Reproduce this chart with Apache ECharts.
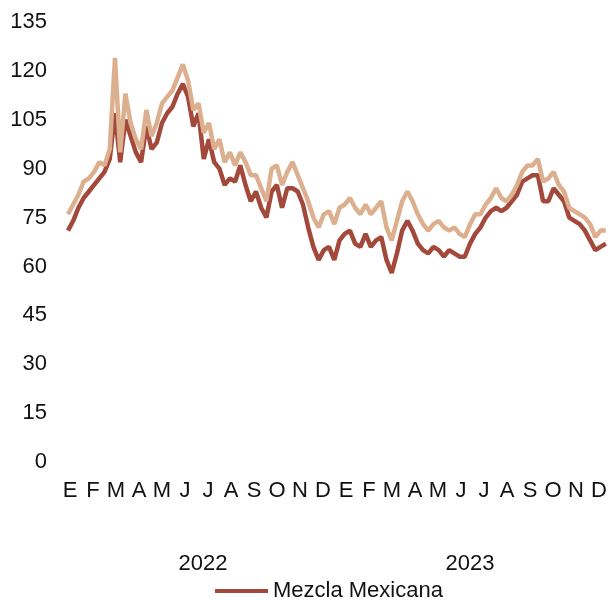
<!DOCTYPE html>
<html>
<head>
<meta charset="utf-8">
<script src="https://cdn.jsdelivr.net/npm/echarts@6/dist/echarts.min.js"></script>
<style>
  html, body { margin: 0; padding: 0; background: #fff; }
  #chart { width: 611px; height: 600px; }
</style>
</head>
<body>
<div id="chart"></div>
<script>
// Weekly readings (Monday of each week)
const weeks = [
  '2022-01-03', '2022-01-10', '2022-01-17', '2022-01-24', '2022-01-31',
  '2022-02-07', '2022-02-14', '2022-02-21', '2022-02-28',
  '2022-03-07', '2022-03-14', '2022-03-21', '2022-03-28',
  '2022-04-04', '2022-04-11', '2022-04-18', '2022-04-25',
  '2022-05-02', '2022-05-09', '2022-05-16', '2022-05-23', '2022-05-30',
  '2022-06-06', '2022-06-13', '2022-06-20', '2022-06-27',
  '2022-07-04', '2022-07-11', '2022-07-18', '2022-07-25',
  '2022-08-01', '2022-08-08', '2022-08-15', '2022-08-22', '2022-08-29',
  '2022-09-05', '2022-09-12', '2022-09-19', '2022-09-26',
  '2022-10-03', '2022-10-10', '2022-10-17', '2022-10-24', '2022-10-31',
  '2022-11-07', '2022-11-14', '2022-11-21', '2022-11-28',
  '2022-12-05', '2022-12-12', '2022-12-19', '2022-12-26',
  '2023-01-02', '2023-01-09', '2023-01-16', '2023-01-23', '2023-01-30',
  '2023-02-06', '2023-02-13', '2023-02-20', '2023-02-27',
  '2023-03-06', '2023-03-13', '2023-03-20', '2023-03-27',
  '2023-04-03', '2023-04-10', '2023-04-17', '2023-04-24',
  '2023-05-01', '2023-05-08', '2023-05-15', '2023-05-22', '2023-05-29',
  '2023-06-05', '2023-06-12', '2023-06-19', '2023-06-26',
  '2023-07-03', '2023-07-10', '2023-07-17', '2023-07-24', '2023-07-31',
  '2023-08-07', '2023-08-14', '2023-08-21', '2023-08-28',
  '2023-09-04', '2023-09-11', '2023-09-18', '2023-09-25',
  '2023-10-02', '2023-10-09', '2023-10-16', '2023-10-23', '2023-10-30',
  '2023-11-06', '2023-11-13', '2023-11-20', '2023-11-27',
  '2023-12-04', '2023-12-11', '2023-12-18', '2023-12-25'
];

const mezcla = [
  71, 74, 78, 81, 83, 85, 87, 89, 93,
  107, 92, 105, 100, 95, 92, 103, 96, 98, 104,
  107, 109, 113, 116, 112, 103, 107,
  93, 99, 92, 90, 85, 87, 86, 91, 85,
  80, 83, 78, 75, 83, 85, 78, 84, 84,
  83, 79, 72, 66, 62, 65, 66, 62,
  68, 70, 71, 67, 66, 70, 66, 68, 69,
  62, 58, 64, 71, 74, 71, 67, 65, 64,
  66, 65, 63, 65, 64, 63, 63, 67, 70,
  72, 75, 77, 78, 77, 78, 80, 82, 86,
  87, 88, 88, 80, 80, 84, 82, 80, 75,
  74, 73, 71, 68, 65, 66, 67
];

const wti = [
  76, 79, 82, 86, 87, 89, 92, 91, 96,
  124, 95, 113, 104, 99, 96, 108, 100, 104, 110,
  112, 114, 118, 122, 117, 108, 110,
  101, 104, 96, 99, 92, 95, 91, 95, 92,
  88, 88, 84, 80, 90, 91, 85, 89, 92,
  88, 84, 80, 75, 72, 76, 77, 73,
  78, 79, 81, 78, 76, 79, 76, 78, 80,
  72, 68, 74, 80, 83, 80, 76, 73, 71,
  73, 74, 72, 71, 72, 70, 69, 73, 76,
  76, 79, 81, 84, 81, 80, 82, 85, 89,
  91, 91, 93, 86, 87, 89, 85, 83, 78,
  77, 76, 75, 73, 69, 71, 71
];

const months = ['E', 'F', 'M', 'A', 'M', 'J', 'J', 'A', 'S', 'O', 'N', 'D',
                'E', 'F', 'M', 'A', 'M', 'J', 'J', 'A', 'S', 'O', 'N', 'D'];
const years = ['2022', '2023'];

const darkColor = '#a3493b';
const lightColor = '#dcb08f';
const font = 'Liberation Sans';
const fontSize = 22;
const gridTop = 22;
const gridBottom = 138;

const chart = echarts.init(document.getElementById('chart'));

chart.setOption({
  animation: false,
  textStyle: { fontFamily: font },
  grid: [
    // data
    { left: 66.5, right: -7.5, top: gridTop, bottom: gridBottom },
    // month letters
    { left: 58.5, right: 0.5, top: gridTop, bottom: gridBottom },
    // years
    { left: 69.5, right: 7.5, top: gridTop, bottom: gridBottom }
  ],
  xAxis: [
    {
      type: 'time',
      gridIndex: 0,
      min: '2022-01-01',
      max: '2024-01-01',
      axisLine: { show: false },
      axisTick: { show: false },
      axisLabel: { show: false },
      splitLine: { show: false }
    },
    {
      type: 'category',
      gridIndex: 1,
      data: months,
      boundaryGap: true,
      axisLine: { show: false },
      axisTick: { show: false },
      axisLabel: { interval: 0, margin: 18, fontSize: fontSize, color: '#111', fontFamily: font }
    },
    {
      type: 'category',
      gridIndex: 2,
      data: years,
      boundaryGap: true,
      axisLine: { show: false },
      axisTick: { show: false },
      axisLabel: { interval: 0, margin: 91, fontSize: fontSize, color: '#111', fontFamily: font }
    }
  ],
  yAxis: [
    {
      type: 'value',
      gridIndex: 0,
      min: 0,
      max: 135,
      interval: 15,
      axisLine: { show: false },
      axisTick: { show: false },
      splitLine: { show: false },
      axisLabel: { margin: 19.5, fontSize: fontSize, color: '#111', fontFamily: font }
    },
    { type: 'value', gridIndex: 1, show: false },
    { type: 'value', gridIndex: 2, show: false }
  ],
  legend: {
    data: ['Mezcla Mexicana'],
    left: 210,
    top: 575,
    icon: 'rect',
    itemWidth: 53,
    itemHeight: 4,
    itemGap: 5,
    textStyle: { fontSize: fontSize, color: '#111', fontFamily: font }
  },
  series: [
    {
      name: 'Mezcla Mexicana',
      type: 'line',
      xAxisIndex: 0,
      yAxisIndex: 0,
      data: weeks.map((d, i) => [d, mezcla[i]]),
      showSymbol: false,
      color: darkColor,
      lineStyle: { width: 4.5, color: darkColor }
    },
    {
      name: 'WTI',
      type: 'line',
      xAxisIndex: 0,
      yAxisIndex: 0,
      data: weeks.map((d, i) => [d, wti[i]]),
      showSymbol: false,
      color: lightColor,
      lineStyle: { width: 4.5, color: lightColor }
    }
  ]
});
</script>
</body>
</html>
